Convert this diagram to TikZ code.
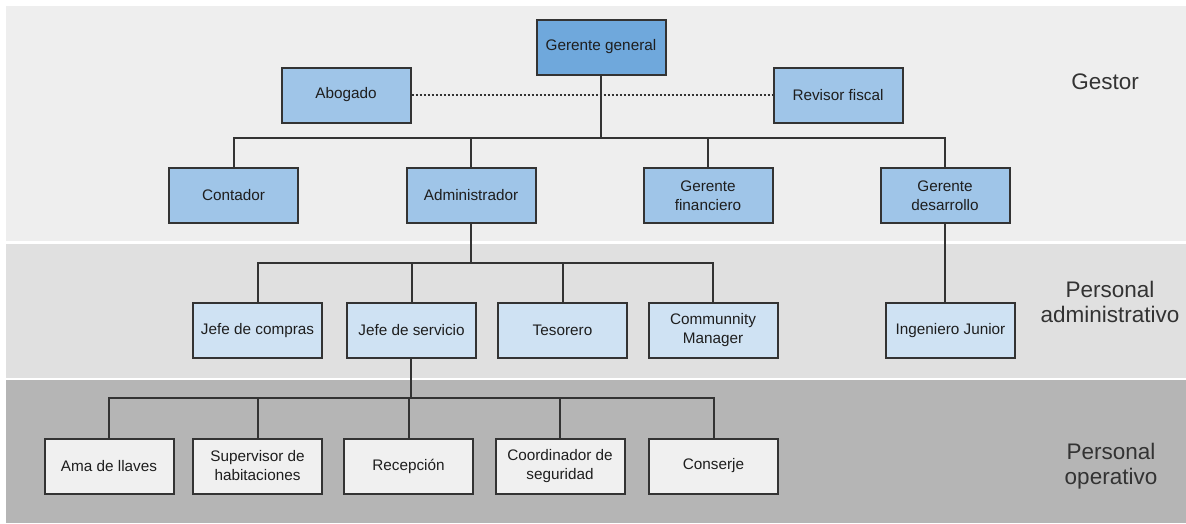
\documentclass[tikz,border=0pt]{standalone}
\usepackage{fontspec}
\setmainfont{Liberation Sans}
\definecolor{bandA}{HTML}{EEEEEE}
\definecolor{bandB}{HTML}{E0E0E0}
\definecolor{bandC}{HTML}{B5B5B5}
\definecolor{topblue}{HTML}{6FA8DC}
\definecolor{midblue}{HTML}{9FC5E8}
\definecolor{lightblue}{HTML}{CFE2F3}
\definecolor{palegray}{HTML}{F0F0F0}
\definecolor{boxline}{HTML}{333333}
\definecolor{textc}{HTML}{1E1E1E}
\definecolor{labelc}{HTML}{333333}
\begin{document}
\begin{tikzpicture}[x=1pt,y=-1pt,
  orgbox/.style={draw=boxline, line width=2pt, minimum width=129pt, minimum height=55pt,
    inner sep=0pt, align=center, text=textc, font=\fontsize{15.3}{19}\selectfont},
  lvlA/.style={orgbox, fill=topblue},
  lvlB/.style={orgbox, fill=midblue},
  lvlC/.style={orgbox, fill=lightblue},
  lvlD/.style={orgbox, fill=palegray},
  conn/.style={draw=boxline, line width=2pt, line join=miter},
  dotconn/.style={draw=boxline, line width=2pt, dotted},
  bandlabel/.style={align=center, text=labelc, font=\fontsize{22.5}{25}\selectfont}
]
\useasboundingbox (0,0) rectangle (1186,523);
\fill[white] (0,0) rectangle (1186,523);
\fill[bandA] (6,6) rectangle (1186,241);
\fill[bandB] (6,243.5) rectangle (1186,377.5);
\fill[bandC] (6,380) rectangle (1186,523);

% nodes
\node[lvlA] (gg) at (601,47) {Gerente general};
\node[lvlB] (abog) at (346,95) {Abogado};
\node[lvlB] (rev) at (838,95) {Revisor fiscal};
\node[lvlB] (cont) at (233.5,195.5) {Contador};
\node[lvlB] (adm) at (471,195.5) {Administrador};
\node[lvlB] (gfin) at (708,195.5) {Gerente\\financiero};
\node[lvlB] (gdes) at (945,195.5) {Gerente\\desarrollo};
\node[lvlC] (jcom) at (257.5,330.5) {Jefe de compras};
\node[lvlC] (jser) at (411.5,330.5) {Jefe de servicio};
\node[lvlC] (tes) at (562.5,330.5) {Tesorero};
\node[lvlC] (cm) at (713,330.5) {Communnity\\Manager};
\node[lvlC] (ing) at (950.5,330.5) {Ingeniero Junior};
\node[lvlD] (ama) at (109,466) {Ama de llaves};
\node[lvlD] (sup) at (257.5,466) {Supervisor de\\habitaciones};
\node[lvlD] (rec) at (408.5,466) {Recepción};
\node[lvlD] (coo) at (560,466) {Coordinador de\\seguridad};
\node[lvlD] (con) at (713.5,466) {Conserje};

% bus coordinates
\coordinate (busA) at (601,138);
\coordinate (busB) at (471,263);
\coordinate (busC) at (411,398);

% connectors level 1
\draw[dotconn] (abog.east) -- (rev.west);
\draw[conn] (gg.south) -- (busA);
\draw[conn] (cont.north) -- (cont.north |- busA) -- (gdes.north |- busA) -- (gdes.north);
\draw[conn] (adm.north) -- (adm.north |- busA);
\draw[conn] (gfin.north) -- (gfin.north |- busA);

% level 2
\draw[conn] (adm.south) -- (busB);
\draw[conn] (jcom.north) -- (jcom.north |- busB) -- (cm.north |- busB) -- (cm.north);
\draw[conn] (jser.north) -- (jser.north |- busB);
\draw[conn] (tes.north) -- (tes.north |- busB);
\draw[conn] (gdes.south) -- (gdes.south |- ing.north);

% level 3
\draw[conn] (jser.south -| busC) -- (busC);
\draw[conn] (ama.north) -- (ama.north |- busC) -- (con.north |- busC) -- (con.north);
\draw[conn] (sup.north) -- (sup.north |- busC);
\draw[conn] (rec.north) -- (rec.north |- busC);
\draw[conn] (coo.north) -- (coo.north |- busC);

% band labels
\node[bandlabel] (lgestor) at (1105,82) {Gestor};
\node[bandlabel] (ladm) at (1110,302) {Personal\\administrativo};
\node[bandlabel] (lop) at (1111,466) {Personal\\operativo};
\end{tikzpicture}
\end{document}
